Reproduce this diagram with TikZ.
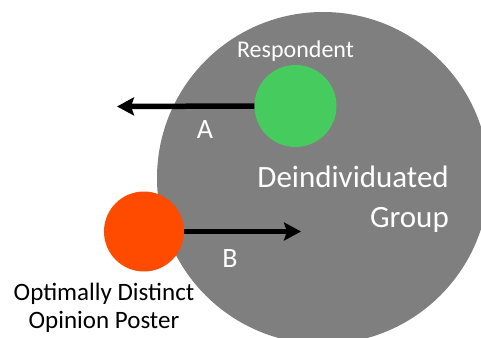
\documentclass[tikz,border=0pt]{standalone}
\usepackage{fontspec}
\setmainfont{Carlito}
\usetikzlibrary{arrows.meta}
\definecolor{grpgray}{RGB}{127,127,127}
\definecolor{respgreen}{RGB}{70,204,94}
\definecolor{postred}{RGB}{255,75,0}
\newcommand\fsz[1]{\fontsize{#1}{#1}\selectfont}
\tikzset{
  disc/.style={circle, inner sep=0pt},
  arr/.style={line width=5.5pt, -{Stealth[length=17pt,width=18pt,inset=3pt]}},
  lbl/.style={inner sep=0pt, text=white},
}
\begin{document}
\begin{tikzpicture}[x=1pt,y=-1pt]
\useasboundingbox (0,0) rectangle (481,337);
\clip (0,0) rectangle (481,337);
\node[disc, fill=grpgray, minimum size=332pt] (G) at (323,178) {};
\node[disc, fill=respgreen, minimum size=82pt] (R) at (295.5,106) {};
\node[disc, fill=postred, minimum size=80pt] (P) at (144,231.5) {};
\coordinate (Aend) at (117,106.5);
\coordinate (Bend) at (301,231.5);
\draw[arr] (R.west) -- (Aend);
\draw[arr] (P.east) -- (Bend);
\node[lbl, anchor=base] (tR) at (295.5,57) {\fsz{24}Respondent};
\node[lbl, anchor=base east] (tD) at (449,187) {\fsz{31}Deindividuated};
\node[lbl, anchor=base east] (tG) at (449,227) {\fsz{31}Group};
\node[lbl, anchor=base] (tA) at (205,138) {\fsz{28}A};
\node[lbl, anchor=base] (tB) at (230,267) {\fsz{28}B};
\node[inner sep=0pt, anchor=base] (tO1) at (104,300) {\fsz{25}Optimally Distinct};
\node[inner sep=0pt, anchor=base] (tO2) at (104,328) {\fsz{25}Opinion Poster};
\end{tikzpicture}
\end{document}
